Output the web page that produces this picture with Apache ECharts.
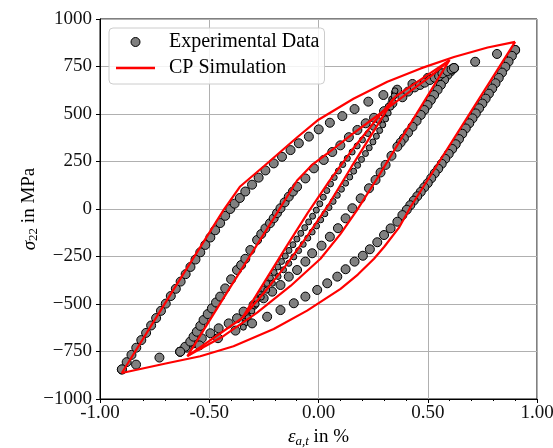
<!DOCTYPE html>
<html><head><meta charset="utf-8">
<script src="https://cdn.jsdelivr.net/npm/echarts@6/dist/echarts.min.js"></script>
<style>html,body{margin:0;padding:0;background:#fff}#c{width:553px;height:448px}</style>
</head><body><div id="c"></div>
<script>
// ---- tick values ----
const xTicks = [-1.0, -0.5, 0.0, 0.5, 1.0];
const yTicks = [-1000, -750, -500, -250, 0, 250, 500, 750, 1000];
const seriesNames = ['Experimental Data', 'CP Simulation'];

// ---- experimental data [strain %, stress MPa] ----
const expOuterAsc = [[-0.900,-845],[-0.878,-806],[-0.856,-768],[-0.834,-730],[-0.811,-690],[-0.789,-652],[-0.766,-613],[-0.743,-574],[-0.721,-536],[-0.699,-498],[-0.676,-458],[-0.653,-420],[-0.631,-382],[-0.608,-343],[-0.586,-305],[-0.563,-266],[-0.541,-228],[-0.518,-189],[-0.495,-150],[-0.473,-112],[-0.450,-74],[-0.427,-36],[-0.404,0],[-0.384,28],[-0.360,58],[-0.335,92],[-0.304,128],[-0.274,165],[-0.243,203],[-0.205,240],[-0.167,275],[-0.128,310],[-0.090,346],[-0.044,381],[0.001,419],[0.052,454],[0.109,489],[0.165,526],[0.228,565],[0.297,600],[0.360,628],[0.430,658],[0.500,690],[0.560,715],[0.620,742],[0.717,775],[0.817,816],[0.900,837]];
const expOuterDesc = [[0.900,837],[0.885,806],[0.870,776],[0.855,748],[0.840,718],[0.825,690],[0.810,662],[0.795,634],[0.780,607],[0.765,581],[0.750,555],[0.735,530],[0.720,503],[0.705,477],[0.690,451],[0.674,424],[0.658,396],[0.643,368],[0.628,341],[0.612,316],[0.596,290],[0.580,264],[0.564,238],[0.548,212],[0.532,188],[0.516,162],[0.500,136],[0.484,114],[0.468,90],[0.452,67],[0.436,44],[0.420,20],[0.404,-4],[0.384,-32],[0.361,-67],[0.330,-102],[0.300,-137],[0.269,-175],[0.235,-212],[0.203,-246],[0.165,-277],[0.124,-317],[0.086,-356],[0.040,-391],[-0.006,-426],[-0.060,-461],[-0.113,-496],[-0.174,-532],[-0.235,-567],[-0.304,-602],[-0.380,-640],[-0.460,-680],[-0.545,-718],[-0.633,-751],[-0.728,-782],[-0.835,-819],[-0.900,-844]];
const expMidDesc = [[0.620,742],[0.605,724],[0.590,705],[0.575,680],[0.560,653],[0.545,627],[0.529,600],[0.514,573],[0.499,547],[0.484,521],[0.468,495],[0.449,464],[0.430,433],[0.410,402],[0.391,372],[0.376,350],[0.361,328],[0.334,280],[0.307,232],[0.284,192],[0.261,153],[0.231,109],[0.193,56],[0.155,4],[0.124,-49],[0.089,-101],[0.052,-146],[0.014,-193],[-0.029,-233],[-0.060,-277],[-0.098,-321],[-0.136,-356],[-0.174,-400],[-0.212,-435],[-0.251,-470],[-0.297,-505],[-0.343,-540],[-0.373,-575],[-0.411,-602],[-0.457,-628],[-0.495,-654],[-0.534,-681],[-0.572,-707],[-0.603,-730],[-0.633,-751]];
const expMidAsc = [[-0.633,-751],[-0.610,-725],[-0.587,-698],[-0.572,-672],[-0.557,-646],[-0.541,-615],[-0.526,-584],[-0.507,-553],[-0.488,-523],[-0.469,-492],[-0.450,-461],[-0.427,-418],[-0.400,-370],[-0.373,-321],[-0.354,-295],[-0.335,-262],[-0.312,-216],[-0.281,-163],[-0.262,-132],[-0.243,-102],[-0.222,-75],[-0.205,-49],[-0.190,-22],[-0.174,4],[-0.155,35],[-0.136,65],[-0.117,92],[-0.098,117],[-0.060,161],[-0.021,214],[0.024,258],[0.063,300],[0.100,335],[0.139,378],[0.178,416],[0.216,451],[0.254,480],[0.300,515],[0.338,556],[0.384,588],[0.410,618],[0.440,640],[0.465,653],[0.486,665],[0.510,679],[0.532,691],[0.552,700],[0.567,714],[0.590,726],[0.609,735],[0.620,742]];
const expInnerAsc = [[-0.345,-615],[-0.336,-590],[-0.325,-563],[-0.312,-535],[-0.298,-507],[-0.283,-478],[-0.268,-450],[-0.252,-421],[-0.236,-392],[-0.220,-363],[-0.203,-334],[-0.186,-305],[-0.169,-276],[-0.152,-247],[-0.135,-218],[-0.117,-188],[-0.099,-158],[-0.081,-128],[-0.063,-98],[-0.045,-68],[-0.027,-38],[-0.010,-6],[0.006,27],[0.022,62],[0.038,97],[0.055,132],[0.072,166],[0.091,200],[0.111,234],[0.132,267],[0.154,300],[0.177,332],[0.201,364],[0.226,397],[0.251,430],[0.276,465],[0.299,502],[0.319,540],[0.335,578],[0.347,612]];
const expInnerDesc = [[0.350,622],[0.346,595],[0.339,566],[0.330,536],[0.319,505],[0.307,474],[0.294,443],[0.280,413],[0.265,383],[0.249,353],[0.232,322],[0.215,292],[0.197,261],[0.179,230],[0.161,199],[0.143,168],[0.124,136],[0.105,104],[0.086,72],[0.067,40],[0.048,8],[0.029,-25],[0.010,-57],[-0.009,-89],[-0.029,-121],[-0.049,-153],[-0.070,-186],[-0.091,-219],[-0.113,-252],[-0.136,-286],[-0.160,-320],[-0.185,-355],[-0.211,-391],[-0.237,-427],[-0.262,-463],[-0.285,-500],[-0.305,-537],[-0.322,-572],[-0.335,-600],[-0.344,-622]];

// ---- CP simulation [strain %, stress MPa] ----
const simInner = [[-0.35,-575],[-0.25,-389],[-0.15,-203],[-0.05,-22],[0.05,148],[0.15,305],[0.25,450],[0.35,590],[0.25,405],[0.15,220],[0.05,30],[-0.05,-140],[-0.15,-298],[-0.25,-442],[-0.35,-575]];
const simTopLink = [[0.35,590],[0.60,784]];
const simBottomLink = [[-0.35,-575],[-0.60,-774]];
const simMid = [[0.60,784],[0.40,410],[0.269,162],[0.177,-5],[0.10,-132],[0.009,-262],[-0.128,-405],[-0.281,-545],[-0.434,-668],[-0.60,-774],[-0.40,-405],[-0.205,-49],[-0.098,150],[-0.03,232],[0.05,300],[0.15,390],[0.25,475],[0.35,560],[0.45,645],[0.52,705],[0.60,784]];
const simOuter = [[0.90,880],[0.422,12],[0.37,-95],[0.30,-200],[0.254,-262],[0.18,-345],[0.101,-420],[-0.052,-535],[-0.205,-632],[-0.389,-722],[-0.541,-775],[-0.694,-812],[-0.90,-863],[-0.66,-418],[-0.434,-5],[-0.36,117],[-0.25,225],[-0.10,375],[0.0,470],[0.16,580],[0.315,670],[0.468,740],[0.62,800],[0.774,850],[0.90,880]];

const FONT = "'Liberation Serif','DejaVu Serif',serif";
const chart = echarts.init(document.getElementById('c'), null, {renderer: 'canvas'});

const scatterStyle = {color: '#808080', borderColor: '#000', borderWidth: 1, opacity: 1};
function sc(data, size) {
  return {name: seriesNames[0], type: 'scatter', data: data, symbol: 'circle', symbolSize: size,
    itemStyle: scatterStyle, emphasis: {disabled: true}, z: 2};
}
function ln(data) {
  return {name: seriesNames[1], type: 'line', data: data, symbol: 'none', showSymbol: false,
    lineStyle: {color: '#ff0000', width: 2.2}, itemStyle: {color: '#ff0000'}, emphasis: {disabled: true}, z: 3};
}

chart.setOption({
  animation: false,
  grid: {left: 100, right: 16, top: 19, bottom: 49, show: true, borderColor: '#000', borderWidth: 1,
    backgroundColor: 'transparent', outerBoundsMode: 'none', containLabel: false},
  legend: {
    orient: 'vertical', left: 109, top: 28,
    padding: [4, 5, 6, 7], itemGap: 6, itemWidth: 39, itemHeight: 9,
    backgroundColor: 'rgba(255,255,255,0.85)', borderColor: '#cccccc', borderWidth: 1, borderRadius: 4,
    textStyle: {fontFamily: FONT, fontSize: 20, color: '#000', padding: [0, 0, 0, 9]},
    data: [
      {name: seriesNames[0], icon: 'circle', itemStyle: scatterStyle},
      {name: seriesNames[1], icon: 'path://M0 0H100V6H0Z', itemStyle: {color: '#ff0000', borderWidth: 0}}
    ],
    selectedMode: false, z: 10
  },
  xAxis: {
    type: 'value', min: xTicks[0], max: xTicks[xTicks.length - 1], interval: 0.5,
    name: '{i|ε}{s|a,t} in %', nameLocation: 'middle', nameGap: 25,
    nameTextStyle: {fontFamily: FONT, fontSize: 19, color: '#000',
      rich: {i: {fontFamily: FONT, fontStyle: 'italic', fontSize: 19}, s: {fontFamily: FONT, fontStyle: 'italic', fontSize: 13, verticalAlign: 'bottom', padding: [8, 0, 0, 0]}}},
    axisLine: {show: true, onZero: false, lineStyle: {color: '#000', width: 1}},
    axisTick: {show: true, inside: false, length: 4, lineStyle: {color: '#000'}},
    minorTick: {show: true, splitNumber: 5, length: 2, lineStyle: {color: '#000'}},
    axisLabel: {fontFamily: FONT, fontSize: 19, color: '#111', margin: 5, formatter: v => v.toFixed(2)},
    splitLine: {show: true, lineStyle: {color: '#b0b0b0', width: 1}}
  },
  yAxis: {
    type: 'value', min: yTicks[0], max: yTicks[yTicks.length - 1], interval: 250,
    name: '{i|σ}{s|22} in MPa', nameLocation: 'middle', nameGap: 60, nameRotate: 90, nameMoveOverlap: false,
    nameTextStyle: {fontFamily: FONT, fontSize: 19, color: '#000',
      rich: {i: {fontFamily: FONT, fontStyle: 'italic', fontSize: 19}, s: {fontFamily: FONT, fontSize: 13, verticalAlign: 'bottom', padding: [8, 0, 0, 0]}}},
    axisLine: {show: true, onZero: false, lineStyle: {color: '#000', width: 1}},
    axisTick: {show: true, inside: false, length: 4, lineStyle: {color: '#000'}},
    axisLabel: {fontFamily: FONT, fontSize: 19, color: '#111', margin: 8, formatter: v => (v < 0 ? '\u2212' + Math.abs(v) : String(v))},
    splitLine: {show: true, lineStyle: {color: '#b0b0b0', width: 1}}
  },
  series: [
    sc(expOuterAsc, 9), sc(expMidDesc, 9), sc(expMidAsc, 9), sc(expInnerAsc, 6), sc(expInnerDesc, 6), sc(expOuterDesc, 9),
    ln(simInner), ln(simTopLink), ln(simBottomLink), ln(simMid), ln(simOuter)
  ]
});
</script></body></html>
